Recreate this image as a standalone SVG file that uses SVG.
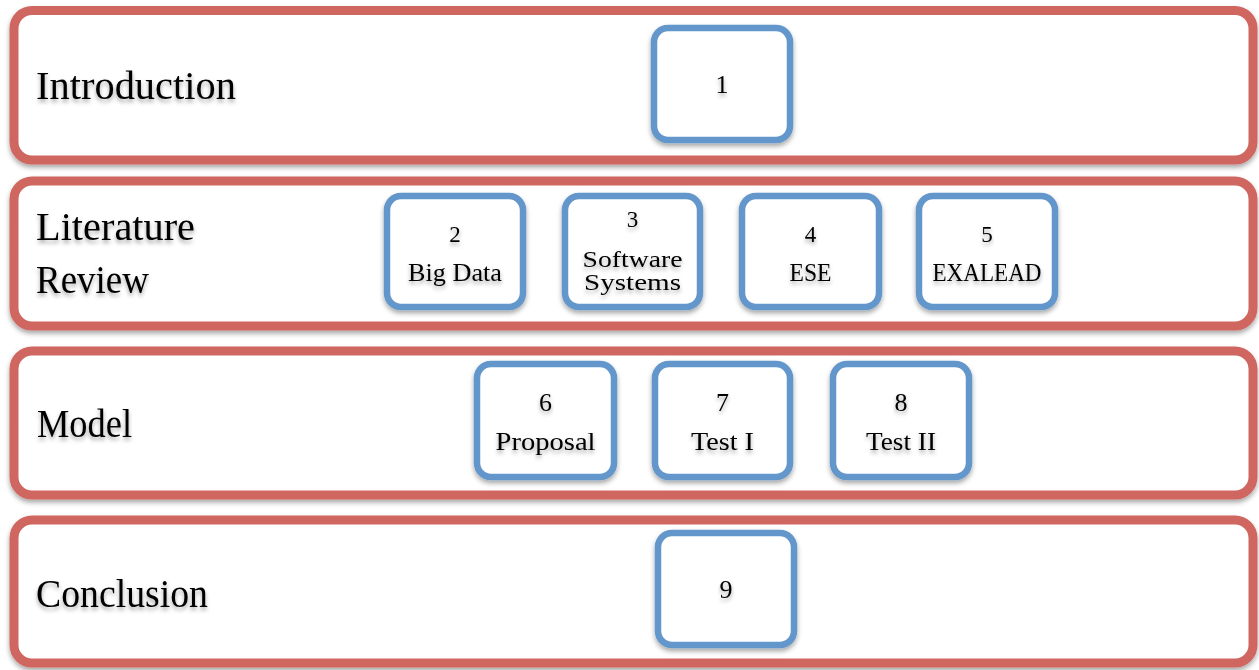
<svg xmlns="http://www.w3.org/2000/svg" width="1259" height="670" viewBox="0 0 1259 670">
  <defs>
    <filter id="shadow" x="-10%" y="-10%" width="120%" height="130%">
      <feDropShadow dx="0" dy="3" stdDeviation="2.5" flood-color="#000" flood-opacity="0.35"/>
    </filter>
    <filter id="textShadow" x="-10%" y="-30%" width="120%" height="160%">
      <feDropShadow dx="0" dy="3" stdDeviation="2" flood-color="#000" flood-opacity="0.35"/>
    </filter>
  </defs>
  <style>
    .band { fill: #ffffff; stroke: #cf6660; stroke-width: 9; filter: url(#shadow); }
    .box { fill: #ffffff; stroke: #6397cb; stroke-width: 6.5; filter: url(#shadow); }
    text { font-family: "Liberation Serif", "Times New Roman", serif; fill: #000; filter: url(#textShadow); }
    .title { font-size: 41px; }
    .num { font-size: 23px; text-anchor: middle; }
    .big { font-size: 26px; text-anchor: middle; }
    .lbl { font-size: 26px; text-anchor: middle; }
    .small { font-size: 23px; text-anchor: middle; }
  </style>
  <rect width="1259" height="670" fill="#ffffff"/>

  <!-- Section bands -->
  <g id="band-introduction">
    <rect class="band" x="14" y="10.5" width="1239" height="149.5" rx="18"/>
    <text class="title" x="36" y="99" textLength="200" lengthAdjust="spacingAndGlyphs">Introduction</text>
  </g>
  <g id="band-literature">
    <rect class="band" x="14" y="181" width="1239" height="145" rx="18"/>
    <text class="title" x="36" y="240" textLength="159" lengthAdjust="spacingAndGlyphs">Literature</text>
    <text class="title" x="36" y="293" textLength="113" lengthAdjust="spacingAndGlyphs">Review</text>
  </g>
  <g id="band-model">
    <rect class="band" x="14" y="351" width="1239" height="144" rx="18"/>
    <text class="title" x="37" y="437" textLength="95" lengthAdjust="spacingAndGlyphs">Model</text>
  </g>
  <g id="band-conclusion">
    <rect class="band" x="14" y="520" width="1239" height="143" rx="18"/>
    <text class="title" x="36" y="607" textLength="172" lengthAdjust="spacingAndGlyphs">Conclusion</text>
  </g>

  <!-- Chapter boxes -->
  <g id="node-1">
    <rect class="box" x="654" y="28" width="136" height="112" rx="14"/>
    <text class="big" x="722" y="93">1</text>
  </g>
  <g id="node-2">
    <rect class="box" x="387" y="196" width="136" height="111" rx="14"/>
    <text class="num" x="455" y="242">2</text>
    <text class="lbl" x="455" y="281" textLength="94" lengthAdjust="spacingAndGlyphs">Big Data</text>
  </g>
  <g id="node-3">
    <rect class="box" x="565" y="196" width="135" height="111" rx="14"/>
    <text class="num" x="632.5" y="227">3</text>
    <text class="small" x="632.5" y="267" textLength="100" lengthAdjust="spacingAndGlyphs">Software</text>
    <text class="small" x="632.5" y="290" textLength="97" lengthAdjust="spacingAndGlyphs">Systems</text>
  </g>
  <g id="node-4">
    <rect class="box" x="742" y="196" width="137" height="111" rx="14"/>
    <text class="num" x="810.5" y="242">4</text>
    <text class="lbl" x="810.5" y="281" textLength="42" lengthAdjust="spacingAndGlyphs">ESE</text>
  </g>
  <g id="node-5">
    <rect class="box" x="919" y="196" width="136" height="111" rx="14"/>
    <text class="num" x="987" y="242">5</text>
    <text class="lbl" x="987" y="281" textLength="109" lengthAdjust="spacingAndGlyphs">EXALEAD</text>
  </g>
  <g id="node-6">
    <rect class="box" x="477" y="364" width="137" height="113" rx="14"/>
    <text class="big" x="545.5" y="411">6</text>
    <text class="lbl" x="545.5" y="450" textLength="100" lengthAdjust="spacingAndGlyphs">Proposal</text>
  </g>
  <g id="node-7">
    <rect class="box" x="655" y="364" width="135" height="113" rx="14"/>
    <text class="big" x="722.5" y="411">7</text>
    <text class="lbl" x="722.5" y="450" textLength="63" lengthAdjust="spacingAndGlyphs">Test I</text>
  </g>
  <g id="node-8">
    <rect class="box" x="833" y="364" width="136" height="113" rx="14"/>
    <text class="big" x="901" y="411">8</text>
    <text class="lbl" x="901" y="450" textLength="70" lengthAdjust="spacingAndGlyphs">Test II</text>
  </g>
  <g id="node-9">
    <rect class="box" x="658" y="533" width="136" height="112" rx="14"/>
    <text class="big" x="726" y="598">9</text>
  </g>

  <!-- No connectors are drawn between chapters -->
  <g id="connectors"/>
</svg>
